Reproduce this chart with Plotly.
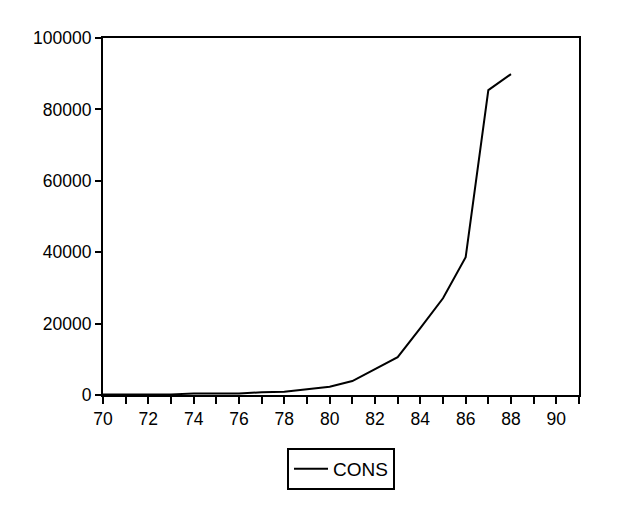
import plotly.graph_objects as go

years = [70, 71, 72, 73, 74, 75, 76, 77, 78, 79, 80, 81, 82, 83, 84, 85, 86, 87, 88]
cons = [150, 150, 150, 150, 450, 450, 450, 750, 900, 1600, 2300, 3900, 7200, 10600,
        18700, 27100, 38600, 85400, 89900]

x_tick_vals = list(range(70, 92))
x_tick_text = [str(v) if v % 2 == 0 else "" for v in x_tick_vals]
y_tick_vals = [0, 20000, 40000, 60000, 80000, 100000]
y_tick_text = [str(v) for v in y_tick_vals]

fig = go.Figure()
fig.add_trace(go.Scatter(x=years, y=cons, mode="lines", name="CONS",
                         line=dict(color="black", width=2)))

font = dict(family="Liberation Sans, Arial, sans-serif", size=17.5, color="black")
legend_font = dict(family="Liberation Sans, Arial, sans-serif", size=19, color="black")
fig.update_layout(
    width=629, height=512,
    margin=dict(l=95, r=58, t=30, b=125),
    paper_bgcolor="white", plot_bgcolor="white",
    font=font,
    showlegend=True,
    legend=dict(orientation="h", x=0.5, xanchor="center", y=-0.148, yanchor="top",
                bordercolor="black", borderwidth=2, bgcolor="white",
                font=legend_font, itemwidth=34),
    xaxis=dict(range=[70, 91], tickvals=x_tick_vals, ticktext=x_tick_text,
               showgrid=False, zeroline=False, showline=True, linecolor="black",
               linewidth=2, mirror=True, ticks="outside", ticklen=7, tickwidth=2,
               tickcolor="black"),
    yaxis=dict(range=[0, 100000], tickvals=y_tick_vals, ticktext=y_tick_text,
               showgrid=False, zeroline=False, showline=True, linecolor="black",
               linewidth=2, mirror=True, ticks="outside", ticklen=6, tickwidth=2,
               tickcolor="black"),
)
fig.write_html("out.html")
